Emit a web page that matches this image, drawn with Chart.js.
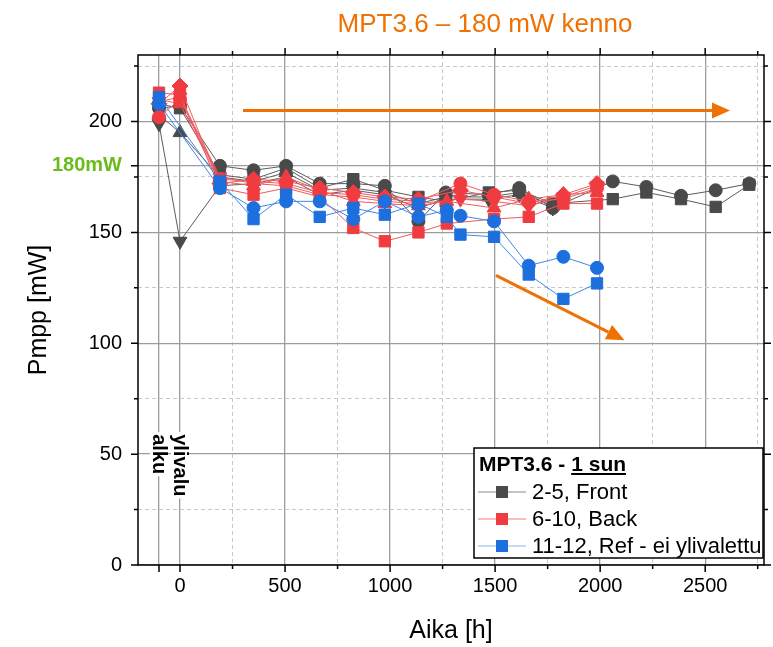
<!DOCTYPE html>
<html>
<head>
<meta charset="utf-8">
<script src="https://cdn.jsdelivr.net/npm/chart.js@4.4.0/dist/chart.umd.min.js"></script>
<style>
  html, body { margin: 0; padding: 0; background: #fff; }
</style>
</head>
<body>
<canvas id="pmppChart" width="773" height="647"></canvas>
<script>
// Mittausajat [h]
const hoursFront = [-100, 0, 190, 350, 505, 665, 825, 975, 1135, 1265, 1470, 1615, 1775, 2060, 2220, 2385, 2550, 2710];
const hoursFrontShort = [-100, 0, 190, 350, 505, 665, 825, 975, 1135, 1265, 1470, 1615, 1775];
const hoursBackA = [-100, 0, 190, 350, 505, 665, 825, 975, 1135, 1335, 1495, 1660, 1825, 1985];
const hoursBackB = [-100, 0, 190, 350, 505, 665, 825, 975, 1135, 1270, 1495, 1660, 1825, 1985];
const hoursRef = [-100, 190, 350, 505, 665, 825, 975, 1135, 1270, 1335, 1495, 1660, 1825, 1985];

// Pmpp [mW], kennot 2-5 (front)
const cell2 = [206, 207, 180, 178, 180, 172, 172, 171, 155, 168, 167, 170, 161, 173, 170.5, 166.5, 169, 172];
const cell3 = [208, 206, 176, 174, 179, 170, 174, 169, 166, 164, 168, 169, 163, 165, 168, 165, 161.5, 171.5];
const cell4 = [203, 195, 175, 173, 177, 169, 170, 168, 163, 166, 166, 168, 162];
const cell5 = [199, 146, 171, 172, 175, 167, 169, 167, 161, 165, 165, 167, 161];
// kennot 6-10 (back)
const cell6 = [202, 210, 174, 173, 172, 168, 167, 165, 164, 172, 167, 164, 165, 170];
const cell7 = [213, 212, 170, 167, 170, 166, 152, 146, 150, 154, 156, 157, 163, 163];
const cell8 = [210, 208, 173, 171, 175, 169, 164, 163, 162, 164, 161, 165, 167, 168];
const cell9 = [209, 211, 175, 172, 171, 167, 166, 164, 163, 165, 164, 162, 166, 171];
const cell10 = [208, 216, 172, 174, 173, 170, 168, 166, 165, 169, 166, 163, 167, 172];
// kennot 11-12 (ref, ei ylivalettu)
const cell11 = [208, 170, 161, 164, 164, 156, 164, 157, 160, 157.5, 155, 135, 139, 134];
const cell12 = [211, 173, 156, 167, 157, 161, 158, 163, 157, 149, 148, 131, 120, 127];

const legendTitle = ['MPT3.6 - ', '1 sun'];
const legendLabels = ['2-5, Front', '6-10, Back', '11-12, Ref - ei ylivalettu'];

const xTicks = [-100, 0, 250, 500, 750, 1000, 1250, 1500, 1750, 2000, 2250, 2500, 2750];
const yTicks = [0, 25, 50, 75, 100, 125, 150, 175, 180, 200, 225];
const nominalPower = 180;

// nuolet [h, mW]
const arrows = [
  { from: [300, 205], to: [2618, 205] },
  { from: [1504, 130.6], to: [2116, 101.4] },
];
const phaseLabels = [
  { hour: 0, text: 'ylivalu' },
  { hour: -100, text: 'alku' },
];
const phaseLabelTop = 59;

const FONT = "'Liberation Sans', Arial, sans-serif";
const GREY = { marker: '#4a4a4a', line: '#5c5c5c', legend: '#8a8a8a' };
const RED = { marker: '#f03c41', line: '#f05a5e', legend: '#f57b7e' };
const BLUE = { marker: '#1c6fdd', line: '#3f87e6', legend: '#8ab8ee' };
const ORANGE = '#ef7103';

function series(hours, values, colors, style, radius, rotation, order) {
  return {
    data: hours.map((h, i) => ({ x: h, y: values[i] })),
    showLine: true,
    borderColor: colors.line,
    borderWidth: 1,
    backgroundColor: colors.marker,
    pointBackgroundColor: colors.marker,
    pointBorderColor: colors.marker,
    pointBorderWidth: 1,
    pointStyle: style,
    pointRadius: radius,
    pointRotation: rotation,
    order: order,
  };
}

const datasets = [
  series(hoursFront, cell3, GREY, 'rect', 8, 0, 2),
  series(hoursFront, cell2, GREY, 'circle', 6.5, 0, 2),
  series(hoursFrontShort, cell4, GREY, 'triangle', 8, 0, 2),
  series(hoursFrontShort, cell5, GREY, 'triangle', 8, 180, 2),
  series(hoursBackB, cell7, RED, 'rect', 8, 0, 1),
  series(hoursBackA, cell6, RED, 'circle', 6.5, 0, 1),
  series(hoursBackB, cell8, RED, 'triangle', 8, 0, 1),
  series(hoursBackA, cell9, RED, 'triangle', 8, 180, 1),
  series(hoursBackA, cell10, RED, 'rectRot', 8, 0, 1),
  series(hoursRef, cell12, BLUE, 'rect', 8, 0, 0),
  series(hoursRef, cell11, BLUE, 'circle', 6.5, 0, 0),
];

const isMajorX = (v) => v % 500 === 0 || v === -100;
const isMajorY = (v) => v % 50 === 0 || v === nominalPower;

function drawArrow(ctx, x0, y0, x1, y1) {
  const ang = Math.atan2(y1 - y0, x1 - x0);
  const len = 18, half = 8;
  const bx = x1 - Math.cos(ang) * len, by = y1 - Math.sin(ang) * len;
  ctx.beginPath();
  ctx.moveTo(x0, y0);
  ctx.lineTo(bx, by);
  ctx.stroke();
  ctx.beginPath();
  ctx.moveTo(x1, y1);
  ctx.lineTo(bx + Math.sin(ang) * half, by - Math.cos(ang) * half);
  ctx.lineTo(bx - Math.sin(ang) * half, by + Math.cos(ang) * half);
  ctx.closePath();
  ctx.fill();
}

const annotations = {
  id: 'annotations',
  afterDatasetsDraw(chart) {
    const { ctx, scales: { x, y } } = chart;
    ctx.save();
    ctx.strokeStyle = ORANGE;
    ctx.fillStyle = ORANGE;
    ctx.lineWidth = 3;
    for (const a of arrows) {
      drawArrow(ctx, x.getPixelForValue(a.from[0]), y.getPixelForValue(a.from[1]),
        x.getPixelForValue(a.to[0]), y.getPixelForValue(a.to[1]));
    }
    // pystytekstit ylivalon alun kohdalle
    ctx.font = 'bold 20px ' + FONT;
    ctx.textBaseline = 'middle';
    ctx.textAlign = 'left';
    for (const p of phaseLabels) {
      const w = ctx.measureText(p.text).width;
      ctx.save();
      ctx.translate(x.getPixelForValue(p.hour), y.getPixelForValue(phaseLabelTop));
      ctx.rotate(Math.PI / 2);
      ctx.fillStyle = '#fff';
      ctx.fillRect(-2, -9, w + 4, 18);
      ctx.fillStyle = '#000';
      ctx.fillText(p.text, 0, 0);
      ctx.restore();
    }
    ctx.restore();
  },
};

const frame = {
  id: 'frame',
  afterDraw(chart) {
    const { ctx, chartArea: a, scales: { x, y } } = chart;
    ctx.save();
    ctx.strokeStyle = '#000';
    ctx.lineWidth = 1.5;
    ctx.beginPath();
    for (const t of x.ticks) {
      const px = x.getPixelForValue(t.value);
      const len = isMajorX(t.value) ? 7 : 4;
      ctx.moveTo(px, a.bottom);
      ctx.lineTo(px, a.bottom + len);
      if (t.value >= 0) {
        ctx.moveTo(px, a.top);
        ctx.lineTo(px, a.top - len);
      }
    }
    for (const t of y.ticks) {
      const py = y.getPixelForValue(t.value);
      const len = isMajorY(t.value) ? 7 : 4;
      ctx.moveTo(a.left, py);
      ctx.lineTo(a.left - len, py);
      ctx.moveTo(a.right, py);
      ctx.lineTo(a.right + len, py);
    }
    ctx.stroke();
    ctx.strokeRect(a.left, a.top, a.right - a.left, a.bottom - a.top);

    // otsikko
    ctx.fillStyle = ORANGE;
    ctx.font = '26px ' + FONT;
    ctx.textAlign = 'center';
    ctx.textBaseline = 'middle';
    ctx.fillText('MPT3.6 \u2013 180 mW kenno', 485, 25);
    ctx.restore();
  },
};

const legendBox = {
  id: 'legendBox',
  afterDraw(chart) {
    const { ctx, chartArea: a } = chart;
    const w = 289, h = 110;
    const bx = a.right - 1 - w, by = a.bottom - 7 - h;
    const groups = [GREY, RED, BLUE];
    ctx.save();
    ctx.fillStyle = '#fff';
    ctx.fillRect(bx, by, w, h);
    ctx.strokeStyle = '#000';
    ctx.lineWidth = 1.5;
    ctx.strokeRect(bx, by, w, h);

    ctx.fillStyle = '#000';
    ctx.font = 'bold 21px ' + FONT;
    ctx.textBaseline = 'alphabetic';
    ctx.textAlign = 'left';
    const w0 = ctx.measureText(legendTitle[0]).width;
    const w1 = ctx.measureText(legendTitle[1]).width;
    ctx.fillText(legendTitle[0], bx + 5, by + 23);
    ctx.fillText(legendTitle[1], bx + 5 + w0, by + 23);
    ctx.fillRect(bx + 5 + w0, by + 25, w1, 2);

    ctx.font = '22px ' + FONT;
    ctx.textBaseline = 'middle';
    groups.forEach((g, i) => {
      const cy = by + 44 + i * 27;
      ctx.strokeStyle = g.legend;
      ctx.lineWidth = 1.2;
      ctx.beginPath();
      ctx.moveTo(bx + 4, cy);
      ctx.lineTo(bx + 52, cy);
      ctx.stroke();
      ctx.fillStyle = g.marker;
      ctx.fillRect(bx + 22, cy - 6, 12, 12);
      ctx.fillStyle = '#000';
      ctx.fillText(legendLabels[i], bx + 58, cy + 1);
    });
    ctx.restore();
  },
};

function gridStyle(isMajor) {
  return {
    drawTicks: false,
    color: (c) => (c.tick && isMajor(c.tick.value) ? '#9c9c9c' : '#c9c9c9'),
    lineWidth: (c) => (c.tick && isMajor(c.tick.value) ? 1.3 : 1),
  };
}

function main() {
  new Chart(document.getElementById('pmppChart'), {
    type: 'scatter',
    data: { datasets },
    options: {
      responsive: false,
      animation: false,
      devicePixelRatio: 1,
      layout: { padding: { top: 55, right: 5, left: 0, bottom: 0 } },
      plugins: { legend: { display: false }, tooltip: { enabled: false } },
      scales: {
        x: {
          type: 'linear',
          min: -200,
          max: 2780,
          afterBuildTicks: (s) => { s.ticks = xTicks.map((v) => ({ value: v })); },
          afterFit: (s) => { s.height = 82; },
          ticks: {
            autoSkip: false,
            maxRotation: 0,
            padding: 9,
            color: '#000',
            font: { family: FONT, size: 20 },
            callback: (v) => (v % 500 === 0 ? String(v) : ''),
          },
          grid: gridStyle(isMajorX),
          border: { display: false, dash: (c) => (c.tick && !isMajorX(c.tick.value) ? [4, 3] : []) },
          title: { display: true, text: 'Aika [h]', color: '#000', font: { family: FONT, size: 25 }, padding: { top: 0, bottom: 1 } },
        },
        y: {
          min: 0,
          max: 230,
          afterBuildTicks: (s) => { s.ticks = yTicks.map((v) => ({ value: v })); },
          afterFit: (s) => { s.width = 138; },
          ticks: {
            autoSkip: false,
            padding: 16,
            color: (c) => (c.tick && c.tick.value === nominalPower ? '#6cbb1c' : '#000'),
            font: (c) => ({ family: FONT, size: 20, weight: c.tick && c.tick.value === nominalPower ? 'bold' : 'normal' }),
            callback: (v) => (v === nominalPower ? nominalPower + 'mW' : v % 50 === 0 ? String(v) : ''),
          },
          grid: gridStyle(isMajorY),
          border: { display: false, dash: (c) => (c.tick && !isMajorY(c.tick.value) ? [4, 3] : []) },
          title: { display: true, text: 'Pmpp [mW]', color: '#000', font: { family: FONT, size: 25 }, padding: { top: 24, bottom: 0 } },
        },
      },
    },
    plugins: [annotations, legendBox, frame],
  });
}

main();
</script>
</body>
</html>
